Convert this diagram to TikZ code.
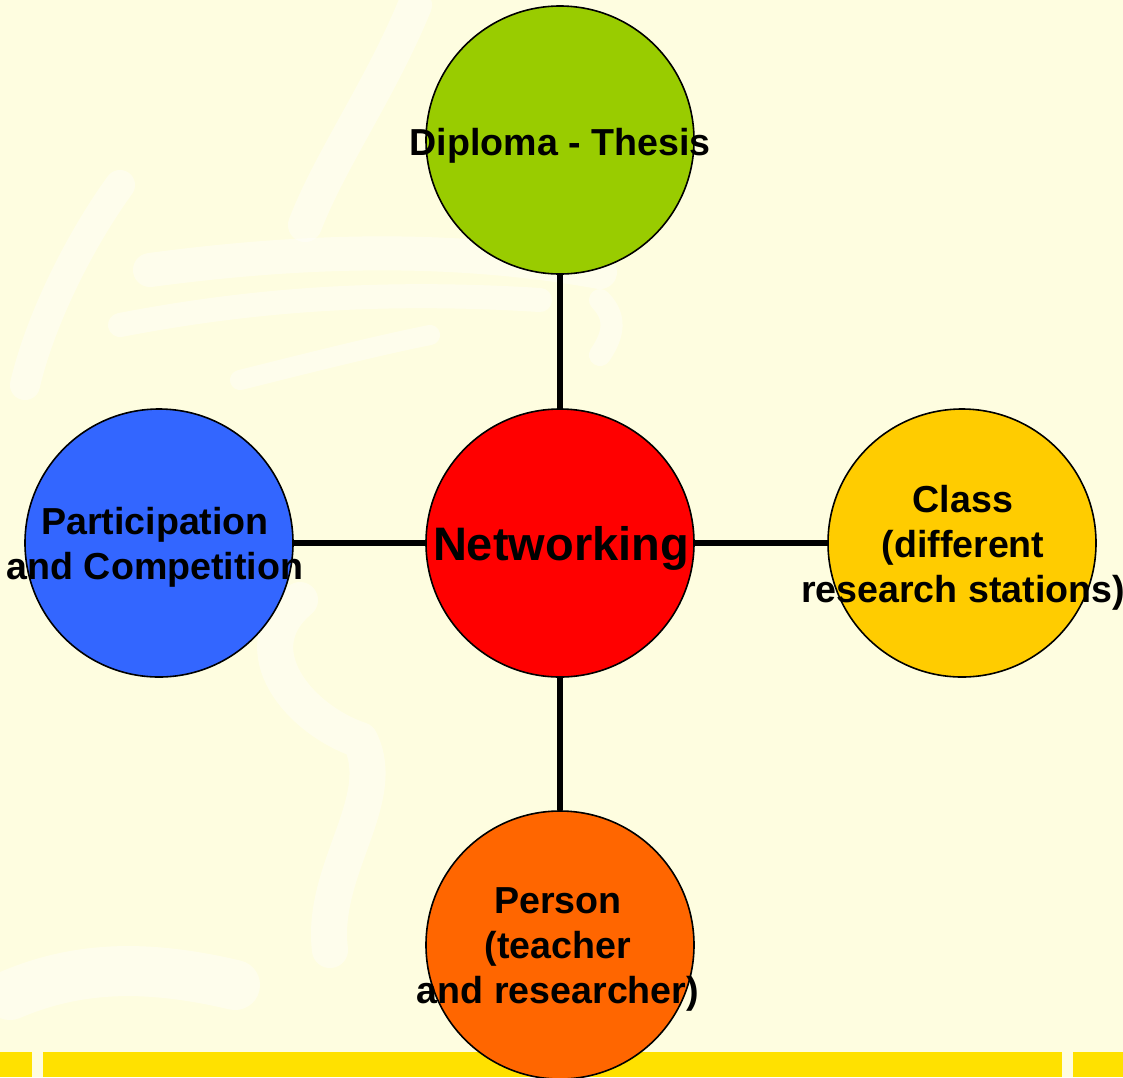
\documentclass[tikz,border=0pt]{standalone}
\usepackage{fontspec}
\setmainfont{Liberation Sans}
\begin{document}
\begin{tikzpicture}[x=1pt,y=-1pt,
  bubble/.style={circle,draw=black,line width=1.6pt,minimum size=268pt,inner sep=0pt},
  lbl/.style={align=center,font=\bfseries\fontsize{37.6}{45}\selectfont,text=black,inner sep=0pt},
  link/.style={line width=5.5pt,draw=black},
  brush/.style={draw=white,line cap=round,line join=round,opacity=0.4}]
\definecolor{bgyellow}{HTML}{FEFDE0}
\definecolor{baryellow}{HTML}{FFE100}
\definecolor{cgreen}{HTML}{99CC00}
\definecolor{cblue}{HTML}{3366FF}
\definecolor{cred}{HTML}{FF0000}
\definecolor{cgold}{HTML}{FFCC00}
\definecolor{corange}{HTML}{FF6600}
% background
\fill[bgyellow] (0,0) rectangle (1123,1077);
\useasboundingbox (0,0) rectangle (1123,1077);
% faint brush strokes
\draw[brush,line width=34pt] (415,5) .. controls (380,90) and (330,160) .. (305,225);
\draw[brush,line width=30pt] (120,185) .. controls (80,240) and (40,320) .. (25,385);
\draw[brush,line width=34pt] (150,270) .. controls (300,250) and (450,245) .. (600,272);
\draw[brush,line width=24pt] (120,325) .. controls (250,300) and (380,290) .. (540,300);
\draw[brush,line width=20pt] (240,380) .. controls (320,360) and (380,345) .. (430,335);
\draw[brush,line width=36pt] (300,600) .. controls (240,650) and (300,720) .. (360,740)
  .. controls (390,800) and (320,870) .. (330,950);
\draw[brush,line width=50pt] (10,995) .. controls (80,965) and (150,965) .. (235,985);
\draw[brush,line width=22pt] (600,300) .. controls (620,320) and (610,340) .. (600,355);
% bottom bar
\fill[baryellow] (0,1052) rectangle (32,1077);
\fill[baryellow] (43,1052) rectangle (1062,1077);
\fill[baryellow] (1073,1052) rectangle (1123,1077);
% circles
\node[bubble,fill=cred]    (net)  at (560,543) {};
\node[bubble,fill=cgreen]  (dip)  at (560,140) {};
\node[bubble,fill=cblue]   (part) at (159,543) {};
\node[bubble,fill=cgold]   (cls)  at (962,543) {};
\node[bubble,fill=corange] (pers) at (560,945) {};
% connectors
\draw[link] (net.north) -- (dip.south);
\draw[link] (net.west) -- (part.east);
\draw[link] (net.east) -- (cls.west);
\draw[link] (net.south) -- (pers.north);
% labels
\node[lbl,font=\bfseries\fontsize{47}{56}\selectfont] (netlbl) at (561,548) {Networking};
\node[lbl] (diplbl) at (560,146) {Diploma - Thesis};
\node[lbl] (partlbl) at (155,547) {Participation\\and Competition};
\node[lbl] (clslbl) at (963,548) {Class\\(different\\research stations)};
\node[lbl] (perslbl) at (558,949) {Person\\(teacher\\and researcher)};
\end{tikzpicture}
\end{document}
